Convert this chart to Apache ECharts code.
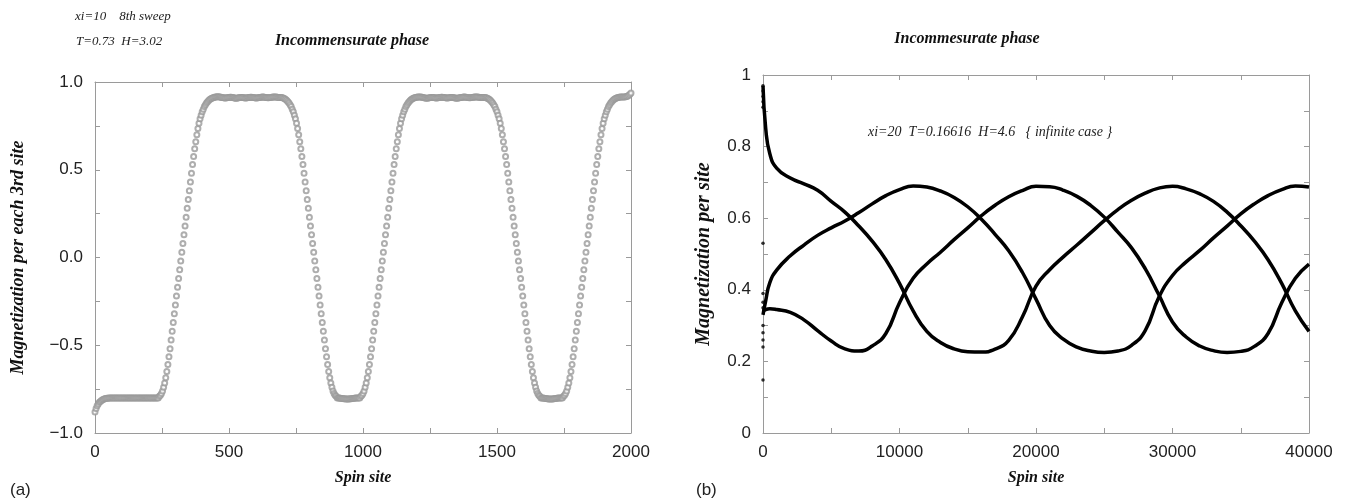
<!DOCTYPE html>
<html>
<head>
<meta charset="utf-8">
<script src="https://cdn.jsdelivr.net/npm/echarts@6/dist/echarts.min.js"></script>
<style>html,body{margin:0;padding:0;background:#fff;}#chart{width:1353px;height:502px;}</style>
</head>
<body>
<div id="chart"></div>
<script>
// ---------- Panel (a): magnetization of every sampled site (sites 0,4,8,...,2000) ----------
const siteStep = 4;
const magnetization = [
-0.88,-0.86,-0.845,-0.835,-0.825,-0.82,-0.815,-0.81,-0.807,-0.805,
-0.803,-0.802,-0.802,-0.801,-0.801,-0.801,-0.80,-0.80,-0.80,-0.80,-0.80,-0.80,-0.80,-0.80,
-0.80,-0.80,-0.80,-0.80,-0.80,-0.80,-0.80,-0.80,-0.80,-0.80,-0.80,-0.80,-0.80,-0.80,-0.80,-0.80,
-0.80,-0.80,-0.80,-0.80,-0.80,-0.80,-0.80,-0.80,-0.80,-0.80,-0.80,-0.80,-0.80,-0.80,-0.80,-0.80,-0.80,-0.80,
-0.80,-0.80,-0.79,-0.785,-0.775,-0.76,-0.74,-0.715,-0.685,-0.65,-0.61,-0.565,-0.52,-0.47,-0.42,-0.37,-0.32,-0.27,-0.22,-0.17,-0.12,-0.07,-0.02,0.03,0.08,0.13,0.18,0.23,0.28,0.33,0.38,0.43,0.48,0.53,0.575,0.62,0.66,0.70,0.735,0.765,0.79,0.81,0.83,0.845,0.86,0.87,0.88,0.888,0.895,0.90,0.905,0.908,0.91,
0.912,0.914,0.915,0.916,0.916,0.915,0.914,0.912,0.911,0.910,0.909,0.909,0.910,0.911,0.912,0.913,
0.913,0.912,0.911,0.909,0.908,0.908,0.909,0.910,0.911,0.912,0.912,0.911,0.910,0.909,0.909,0.910,
0.911,0.912,0.913,0.913,0.912,0.911,0.910,0.909,0.909,0.910,0.911,0.912,0.913,0.914,0.914,0.913,
0.912,0.911,0.910,0.910,0.911,0.912,0.913,0.914,0.915,0.915,0.914,0.913,0.912,0.912,0.911,0.911,
0.91,0.908,0.905,0.90,0.895,0.888,0.88,0.87,0.86,0.845,0.83,0.81,0.79,0.765,0.735,0.70,0.66,0.62,0.575,0.53,0.48,0.43,0.38,0.33,0.28,0.23,0.18,0.13,0.08,0.03,-0.02,-0.07,-0.12,-0.17,-0.22,-0.27,-0.32,-0.37,-0.42,-0.47,-0.52,-0.565,-0.61,-0.65,-0.685,-0.715,-0.74,-0.76,-0.775,-0.785,-0.79,-0.80,-0.80,
-0.801,-0.802,-0.803,-0.804,-0.805,-0.805,-0.806,-0.806,-0.806,-0.806,-0.805,-0.805,-0.804,-0.803,-0.802,-0.801,-0.80,-0.80,
-0.80,-0.80,-0.79,-0.785,-0.775,-0.76,-0.74,-0.715,-0.685,-0.65,-0.61,-0.565,-0.52,-0.47,-0.42,-0.37,-0.32,-0.27,-0.22,-0.17,-0.12,-0.07,-0.02,0.03,0.08,0.13,0.18,0.23,0.28,0.33,0.38,0.43,0.48,0.53,0.575,0.62,0.66,0.70,0.735,0.765,0.79,0.81,0.83,0.845,0.86,0.87,0.88,0.888,0.895,0.90,0.905,0.908,0.91,
0.911,0.913,0.914,0.915,0.915,0.914,0.913,0.912,0.910,0.909,0.908,0.908,0.909,0.910,0.911,0.912,
0.912,0.911,0.910,0.909,0.909,0.910,0.911,0.912,0.913,0.913,0.912,0.911,0.910,0.909,0.909,0.910,
0.911,0.912,0.912,0.911,0.910,0.909,0.908,0.908,0.909,0.910,0.911,0.912,0.913,0.914,0.914,0.913,
0.912,0.911,0.910,0.910,0.911,0.912,0.913,0.914,0.915,0.915,0.914,0.913,0.912,0.912,0.911,0.911,
0.911,0.911,
0.91,0.908,0.905,0.90,0.895,0.888,0.88,0.87,0.86,0.845,0.83,0.81,0.79,0.765,0.735,0.70,0.66,0.62,0.575,0.53,0.48,0.43,0.38,0.33,0.28,0.23,0.18,0.13,0.08,0.03,-0.02,-0.07,-0.12,-0.17,-0.22,-0.27,-0.32,-0.37,-0.42,-0.47,-0.52,-0.565,-0.61,-0.65,-0.685,-0.715,-0.74,-0.76,-0.775,-0.785,-0.79,-0.80,-0.80,
-0.801,-0.802,-0.803,-0.804,-0.805,-0.806,-0.806,-0.806,-0.806,-0.806,-0.805,-0.804,-0.803,-0.802,-0.801,-0.80,-0.80,
-0.80,-0.80,-0.79,-0.785,-0.775,-0.76,-0.74,-0.715,-0.685,-0.65,-0.61,-0.565,-0.52,-0.47,-0.42,-0.37,-0.32,-0.27,-0.22,-0.17,-0.12,-0.07,-0.02,0.03,0.08,0.13,0.18,0.23,0.28,0.33,0.38,0.43,0.48,0.53,0.575,0.62,0.66,0.70,0.735,0.765,0.79,0.81,0.83,0.845,0.86,0.87,0.88,0.888,0.895,0.90,0.905,0.908,0.91,
0.912,0.913,0.914,0.914,0.914,0.914,0.915,0.916,0.918,0.920,0.924,0.930,0.937
];

// ---------- Panel (b): three sublattice magnetizations ----------
const spinSites = [0,200,500,1000,2000,3000,4000,5000,6000,7000,8000,9000,10000,11000,12000,13000,14000,15000,16000,17000,18000,19000,20000,21000,22000,23000,24000,25000,26000,27000,28000,29000,30000,31000,32000,33000,34000,35000,36000,37000,38000,39000,40000];
const curveA = [0.97,0.85,0.78,0.74,0.712,0.696,0.678,0.647,0.617,0.579,0.536,0.484,0.418,0.341,0.284,0.253,0.235,0.227,0.226,0.234,0.259,0.324,0.41,0.456,0.492,0.525,0.559,0.593,0.624,0.65,0.67,0.684,0.689,0.682,0.668,0.647,0.617,0.579,0.536,0.484,0.418,0.341,0.284];
const curveB = [0.33,0.37,0.42,0.455,0.495,0.525,0.552,0.573,0.592,0.615,0.64,0.663,0.68,0.69,0.687,0.676,0.658,0.632,0.597,0.555,0.509,0.449,0.374,0.30,0.262,0.24,0.229,0.225,0.229,0.245,0.286,0.379,0.44,0.478,0.51,0.545,0.578,0.612,0.64,0.663,0.68,0.69,0.687];
const curveC = [0.34,0.345,0.347,0.345,0.337,0.316,0.286,0.257,0.235,0.229,0.243,0.278,0.364,0.432,0.472,0.505,0.54,0.573,0.607,0.636,0.66,0.677,0.689,0.688,0.678,0.661,0.636,0.603,0.561,0.517,0.459,0.386,0.31,0.268,0.243,0.23,0.225,0.228,0.242,0.278,0.364,0.432,0.472];
const startDotSites = [0,0,0,0,0,0,0,0,0,0,0,0,0,0];
const startDotValues = [0.97,0.955,0.94,0.925,0.91,0.53,0.39,0.365,0.35,0.30,0.28,0.26,0.24,0.148];

const chart = echarts.init(document.getElementById('chart'), null, {renderer:'canvas'});

const axisGray = '#9a9a9a';
const xNameStyle = {fontFamily:'Liberation Serif', fontStyle:'italic', fontWeight:'bold', fontSize:16, color:'#111'};
const leftYNameStyle = {fontFamily:'Liberation Serif', fontStyle:'italic', fontWeight:'bold', fontSize:18, color:'#111'};
const rightYNameStyle = {fontFamily:'Liberation Serif', fontStyle:'italic', fontWeight:'bold', fontSize:20, color:'#111'};
const tickLabel = {color:'#222', fontSize:17, fontFamily:'Liberation Sans'};

function baseAxis(extra){
  return Object.assign({
    type:'value',
    axisLine:{show:true, onZero:false, lineStyle:{color:axisGray, width:1}},
    axisTick:{show:true, inside:true, length:5, lineStyle:{color:axisGray}},
    splitLine:{show:false},
    minorTick:{show:false}
  }, extra);
}

const option = {
  animation:false,
  backgroundColor:'#fff',
  grid:[
    {left:95, top:82, width:536, height:351},
    {left:763, top:75, width:546, height:358}
  ],
  xAxis:[
    baseAxis({gridIndex:0, min:0, max:2000, interval:250,
      axisLabel:Object.assign({margin:11, formatter:v => (v % 500 === 0 ? String(v) : '')}, tickLabel),
      name:'Spin site', nameLocation:'middle', nameGap:37, nameTextStyle:xNameStyle}),
    baseAxis({gridIndex:0, position:'top', min:0, max:2000, interval:250, axisLabel:{show:false}}),
    baseAxis({gridIndex:1, min:0, max:40000, interval:5000,
      axisLabel:Object.assign({margin:11, formatter:v => (v % 10000 === 0 ? String(v) : '')}, tickLabel),
      name:'Spin site', nameLocation:'middle', nameGap:37, nameTextStyle:xNameStyle}),
    baseAxis({gridIndex:1, position:'top', min:0, max:40000, interval:5000, axisLabel:{show:false}})
  ],
  yAxis:[
    baseAxis({gridIndex:0, min:-1, max:1, interval:0.25,
      axisLabel:Object.assign({margin:12, formatter:v => {
        const k = Math.round(v*4);
        return (k % 2 === 0) ? (k/4).toFixed(1).replace('-', '\u2212') : '';
      }}, tickLabel),
      name:'Magnetization per each 3rd site', nameLocation:'middle', nameGap:68, nameTextStyle:leftYNameStyle}),
    baseAxis({gridIndex:0, position:'right', min:-1, max:1, interval:0.25, axisLabel:{show:false}}),
    baseAxis({gridIndex:1, min:0, max:1, interval:0.1,
      axisLabel:Object.assign({margin:12, formatter:v => {
        const k = Math.round(v*10);
        return (k % 2 === 0) ? String(k/10) : '';
      }}, tickLabel),
      name:'Magnetization per site', nameLocation:'middle', nameGap:49, nameTextStyle:rightYNameStyle}),
    baseAxis({gridIndex:1, position:'right', min:0, max:1, interval:0.1, axisLabel:{show:false}})
  ],
  series:[
    {type:'scatter', xAxisIndex:0, yAxisIndex:0, symbol:'emptyCircle', symbolSize:5,
      itemStyle:{color:'#9a9a9a', borderColor:'#9a9a9a', borderWidth:0.7},
      data: magnetization.map((v,i) => [i*siteStep, v])},
    {type:'line', xAxisIndex:2, yAxisIndex:2, smooth:0.5, showSymbol:false,
      lineStyle:{color:'#000', width:3.5}, data: spinSites.map((x,i) => [x, curveA[i]])},
    {type:'line', xAxisIndex:2, yAxisIndex:2, smooth:0.5, showSymbol:false,
      lineStyle:{color:'#000', width:3.5}, data: spinSites.map((x,i) => [x, curveB[i]])},
    {type:'line', xAxisIndex:2, yAxisIndex:2, smooth:0.5, showSymbol:false,
      lineStyle:{color:'#000', width:3.5}, data: spinSites.map((x,i) => [x, curveC[i]])},
    {type:'scatter', xAxisIndex:2, yAxisIndex:2, symbol:'circle', symbolSize:3.5,
      itemStyle:{color:'#000'}, data: startDotSites.map((x,i) => [x, startDotValues[i]])}
  ],
  graphic:[
    {type:'text', x:75, y:17, style:{text:'xi=10    8th sweep', font:'italic 13px "Liberation Serif"', fill:'#222', align:'left', verticalAlign:'middle'}},
    {type:'text', x:76, y:42, style:{text:'T=0.73  H=3.02', font:'italic 13px "Liberation Serif"', fill:'#222', align:'left', verticalAlign:'middle'}},
    {type:'text', x:352, y:41, style:{text:'Incommensurate phase', font:'italic bold 16px "Liberation Serif"', fill:'#111', align:'center', verticalAlign:'middle'}},
    {type:'text', x:967, y:39, style:{text:'Incommesurate phase', font:'italic bold 16px "Liberation Serif"', fill:'#111', align:'center', verticalAlign:'middle'}},
    {type:'text', x:868, y:132, style:{text:'xi=20  T=0.16616  H=4.6   { infinite case }', font:'italic 14px "Liberation Serif"', fill:'#222', align:'left', verticalAlign:'middle'}},
    {type:'text', x:10, y:490, style:{text:'(a)', font:'17px "Liberation Sans"', fill:'#222', align:'left', verticalAlign:'middle'}},
    {type:'text', x:696, y:490, style:{text:'(b)', font:'17px "Liberation Sans"', fill:'#222', align:'left', verticalAlign:'middle'}}
  ]
};
chart.setOption(option);
</script>
</body>
</html>
